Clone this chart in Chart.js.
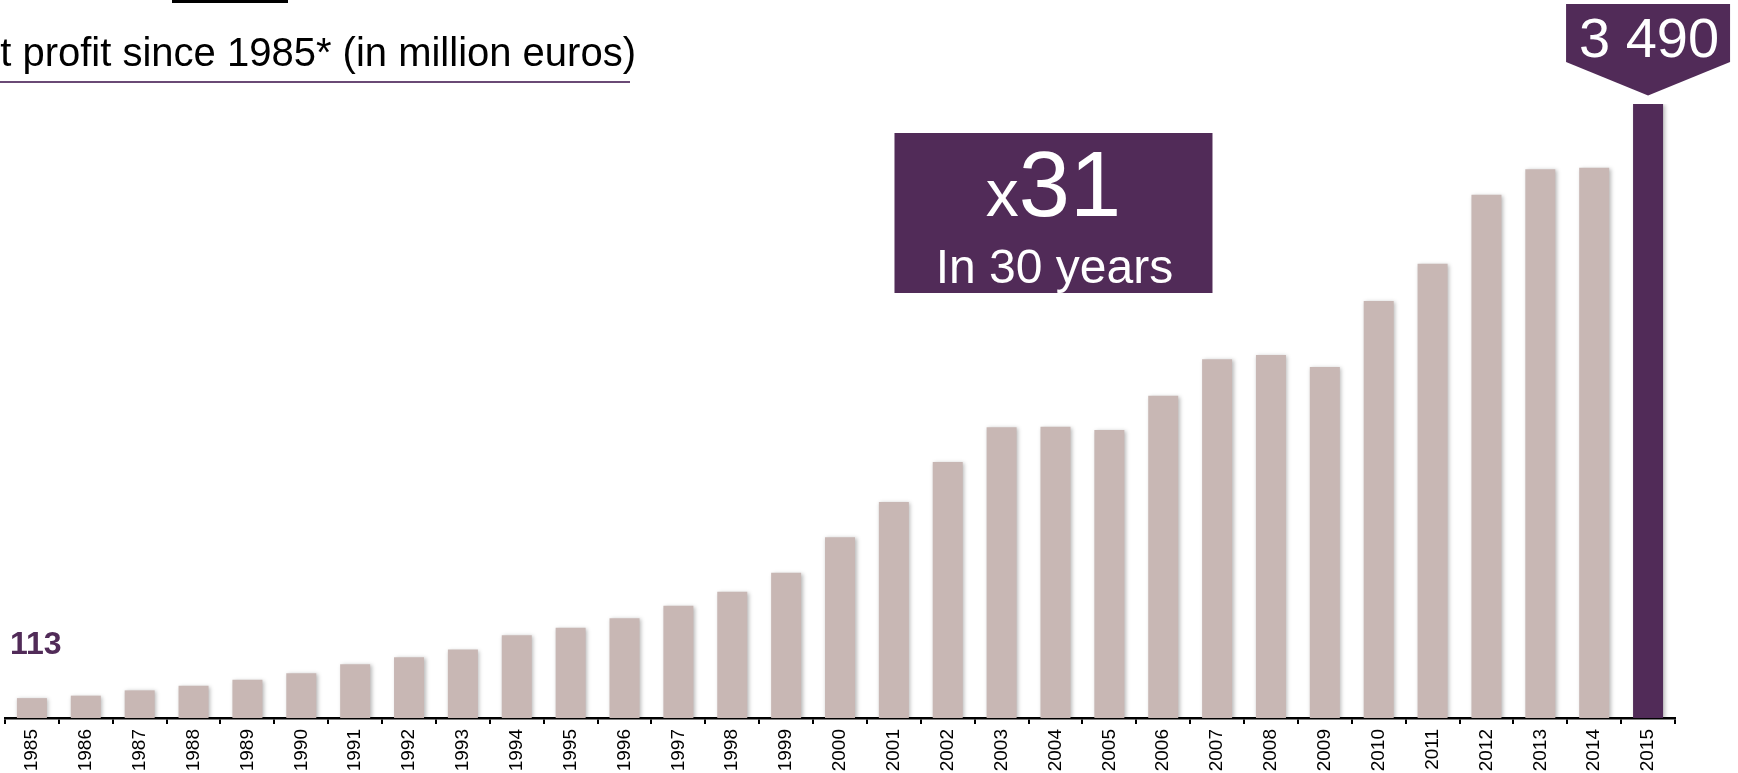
<!DOCTYPE html>
<html>
<head>
<meta charset="utf-8">
<script src="https://cdn.jsdelivr.net/npm/chart.js@4/dist/chart.umd.min.js"></script>
<style>
  html, body { margin: 0; padding: 0; background: #fff; overflow: hidden; }
  canvas { display: block; }
</style>
</head>
<body>
<canvas id="profit" width="1738" height="773"></canvas>
<script>
// net profit per year, million euros
const years = ['1985', '1986', '1987', '1988', '1989', '1990', '1991', '1992', '1993', '1994',
  '1995', '1996', '1997', '1998', '1999', '2000', '2001', '2002', '2003', '2004',
  '2005', '2006', '2007', '2008', '2009', '2010', '2011', '2012', '2013', '2014', '2015'];
const profit = [113, 127, 157, 184, 218, 254, 305, 345, 389, 470,
  513, 567, 638, 718, 826, 1027, 1228, 1455, 1652, 1656,
  1637, 1832, 2039, 2063, 1995, 2370, 2582, 2974, 3119, 3128, 3490];

const titleText = 't profit since 1985* (in million euros)';
const PURPLE = '#512B58';
const GREY = '#C8B7B4';
const FONT = '"Liberation Sans", Arial, sans-serif';

const barColors = profit.map((v, i) => i === profit.length - 1 ? PURPLE : GREY);

function spaced(n) {
  return String(n).replace(/\B(?=(\d{3})+(?!\d))/g, ' ');
}

// soft shadow behind the bars
const barShadow = {
  id: 'barShadow',
  beforeDatasetsDraw(chart) {
    const ctx = chart.ctx;
    ctx.save();
    ctx.shadowColor = 'rgba(0,0,0,0.28)';
    ctx.shadowBlur = 4;
    ctx.shadowOffsetX = 1.5;
    ctx.shadowOffsetY = 1;
  },
  afterDatasetsDraw(chart) {
    chart.ctx.restore();
  }
};

// heading, callouts and first/last value labels
const extras = {
  id: 'extras',
  afterDraw(chart) {
    const ctx = chart.ctx;
    const bars = chart.getDatasetMeta(0).data;
    const xs = chart.scales.x;
    const first = bars[0], last = bars[bars.length - 1];
    ctx.save();

    // heading
    ctx.fillStyle = '#000';
    ctx.fillRect(172, 0, 116, 3);
    ctx.font = '40px ' + FONT;
    ctx.textAlign = 'right';
    ctx.textBaseline = 'alphabetic';
    ctx.fillText(titleText, 636, 66);
    ctx.fillStyle = '#6a4a75';
    ctx.fillRect(0, 81, 630, 2);

    // last value arrow box
    const cx = last.x, tip = last.y - 8.5;
    ctx.fillStyle = PURPLE;
    ctx.beginPath();
    ctx.moveTo(cx - 82, 4);
    ctx.lineTo(cx + 82, 4);
    ctx.lineTo(cx + 82, tip - 33.5);
    ctx.lineTo(cx, tip);
    ctx.lineTo(cx - 82, tip - 33.5);
    ctx.closePath();
    ctx.fill();
    ctx.fillStyle = '#fff';
    ctx.textAlign = 'center';
    ctx.font = '56px ' + FONT;
    ctx.fillText(spaced(profit[profit.length - 1]), cx + 1, 57);

    // growth box
    const bx = xs.getPixelForValue(19) - 2;
    ctx.fillStyle = PURPLE;
    ctx.fillRect(bx - 159, 133, 318, 160);
    const ratio = Math.round(profit[profit.length - 1] / profit[0]);
    const span = Number(years[years.length - 1]) - Number(years[0]);
    ctx.fillStyle = '#fff';
    ctx.textAlign = 'left';
    ctx.font = '66px ' + FONT;
    const wx = ctx.measureText('x').width;
    ctx.font = '92px ' + FONT;
    const wn = ctx.measureText(String(ratio)).width;
    const sx = bx - (wx + wn) / 2;
    ctx.font = '66px ' + FONT;
    ctx.fillText('x', sx, 216);
    ctx.font = '92px ' + FONT;
    ctx.fillText(String(ratio), sx + wx, 216);
    ctx.textAlign = 'center';
    ctx.font = '48px ' + FONT;
    ctx.fillText('In ' + span + ' years', bx + 1, 283);

    // first value label
    ctx.fillStyle = PURPLE;
    ctx.textAlign = 'left';
    ctx.font = 'bold 32px ' + FONT;
    ctx.fillText(String(profit[0]), first.x - 22, first.y - 44);

    ctx.restore();
  }
};

new Chart(document.getElementById('profit'), {
  type: 'bar',
  data: {
    labels: years,
    datasets: [{
      data: profit,
      backgroundColor: barColors,
      borderWidth: 0,
      categoryPercentage: 1,
      barPercentage: 0.557
    }]
  },
  plugins: [barShadow, extras],
  options: {
    responsive: false,
    animation: false,
    events: [],
    layout: {
      padding: { left: 5, right: 63, top: 104, bottom: 0 }
    },
    plugins: {
      legend: { display: false },
      tooltip: { enabled: false }
    },
    scales: {
      y: {
        display: false,
        min: 0,
        max: 3490
      },
      x: {
        afterFit(scale) { scale.height = 55; },
        border: { display: true, color: '#000', width: 2.5 },
        grid: {
          offset: true,
          drawOnChartArea: false,
          drawTicks: true,
          tickLength: 6,
          color: '#000',
          lineWidth: 2
        },
        ticks: {
          autoSkip: false,
          minRotation: 90,
          maxRotation: 90,
          padding: 5,
          color: '#000',
          font: { family: FONT, size: 19 }
        }
      }
    }
  }
});
</script>
</body>
</html>
